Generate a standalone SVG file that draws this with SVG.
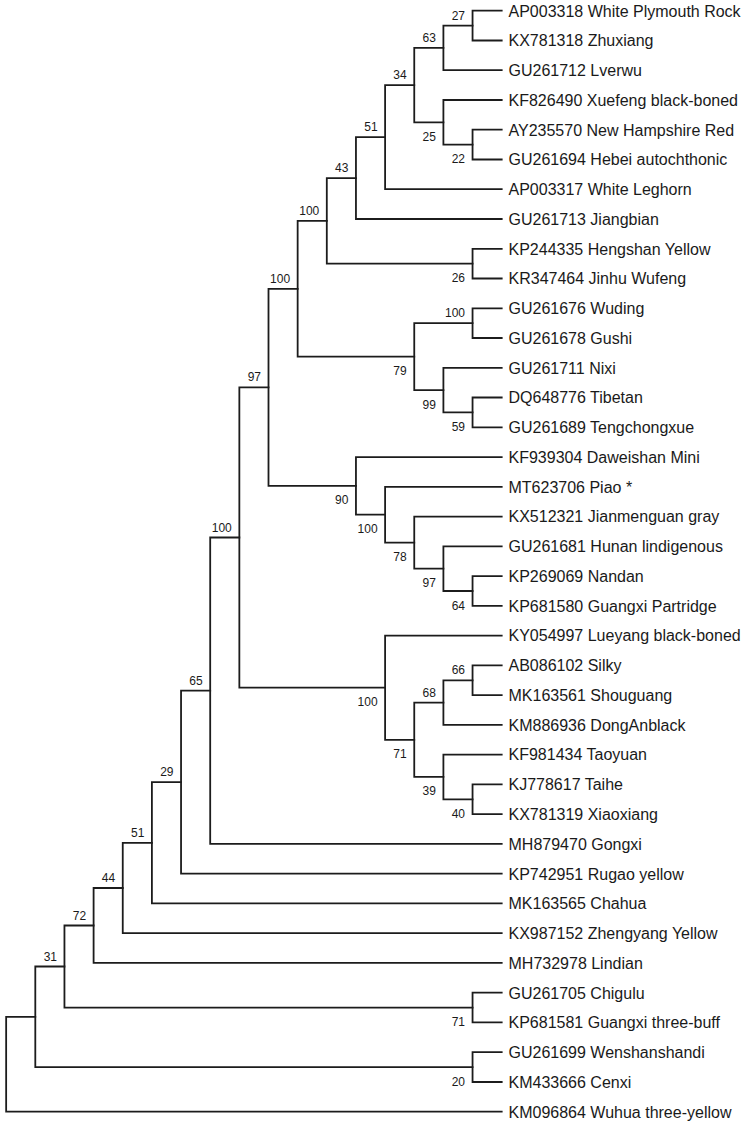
<svg xmlns="http://www.w3.org/2000/svg" width="750" height="1124" viewBox="0 0 750 1124">
<style>
.br{fill:none;stroke:#1c1c1c;stroke-width:1.8;stroke-linecap:square;stroke-linejoin:miter}
.lf{font-family:"Liberation Sans",Arial,sans-serif;font-size:16px;fill:#1a1a1a}
.bs{font-family:"Liberation Sans",Arial,sans-serif;font-size:12px;fill:#1a1a1a;text-anchor:end}
</style>
<rect width="750" height="1124" fill="#fff"/>
<g id="connectors">
<path class="br" d="M501.7 10.7H472.55V40.5H501.7"/>
<path class="br" d="M472.55 25.6H443.4V70.2H501.7"/>
<path class="br" d="M501.7 129.7H472.55V159.5H501.7"/>
<path class="br" d="M501.7 100H443.4V144.6H472.55"/>
<path class="br" d="M443.4 47.9H414.25V122.3H443.4"/>
<path class="br" d="M414.25 85.1H385.1V189.2H501.7"/>
<path class="br" d="M385.1 137.2H355.95V219H501.7"/>
<path class="br" d="M501.7 248.8H472.55V278.5H501.7"/>
<path class="br" d="M355.95 178.1H326.8V263.7H472.55"/>
<path class="br" d="M501.7 308.3H472.55V338H501.7"/>
<path class="br" d="M501.7 397.5H472.55V427.3H501.7"/>
<path class="br" d="M501.7 367.8H443.4V412.4H472.55"/>
<path class="br" d="M472.55 323.2H414.25V390.1H443.4"/>
<path class="br" d="M326.8 220.9H297.65V356.6H414.25"/>
<path class="br" d="M501.7 576.1H472.55V605.8H501.7"/>
<path class="br" d="M501.7 546.3H443.4V591H472.55"/>
<path class="br" d="M501.7 516.6H414.25V568.6H443.4"/>
<path class="br" d="M501.7 486.8H385.1V542.6H414.25"/>
<path class="br" d="M501.7 457.1H355.95V514.7H385.1"/>
<path class="br" d="M297.65 288.8H268.5V485.9H355.95"/>
<path class="br" d="M501.7 665.4H472.55V695.1H501.7"/>
<path class="br" d="M472.55 680.3H443.4V724.9H501.7"/>
<path class="br" d="M501.7 784.4H472.55V814.1H501.7"/>
<path class="br" d="M501.7 754.6H443.4V799.3H472.55"/>
<path class="br" d="M443.4 702.6H414.25V776.9H443.4"/>
<path class="br" d="M501.7 635.6H385.1V739.8H414.25"/>
<path class="br" d="M268.5 387.3H239.35V687.7H385.1"/>
<path class="br" d="M239.35 537.5H210.2V843.9H501.7"/>
<path class="br" d="M210.2 690.7H181.05V873.7H501.7"/>
<path class="br" d="M181.05 782.2H151.9V903.4H501.7"/>
<path class="br" d="M151.9 842.8H122.75V933.2H501.7"/>
<path class="br" d="M122.75 888H93.6V962.9H501.7"/>
<path class="br" d="M501.7 992.7H472.55V1022.4H501.7"/>
<path class="br" d="M93.6 925.5H64.45V1007.6H472.55"/>
<path class="br" d="M501.7 1052.2H472.55V1082H501.7"/>
<path class="br" d="M64.45 966.5H35.3V1067.1H472.55"/>
<path class="br" d="M35.3 1016.8H6.15V1111.7H501.7"/>
</g>
<g id="leaves">
<g id="leaf-AP003318"><text class="lf" x="508.5" y="16.5">AP003318 White Plymouth Rock</text></g>
<g id="leaf-KX781318"><text class="lf" x="508.5" y="46.3">KX781318 Zhuxiang</text></g>
<g id="leaf-GU261712"><text class="lf" x="508.5" y="76">GU261712 Lverwu</text></g>
<g id="leaf-KF826490"><text class="lf" x="508.5" y="105.8">KF826490 Xuefeng black-boned</text></g>
<g id="leaf-AY235570"><text class="lf" x="508.5" y="135.5">AY235570 New Hampshire Red</text></g>
<g id="leaf-GU261694"><text class="lf" x="508.5" y="165.3">GU261694 Hebei autochthonic</text></g>
<g id="leaf-AP003317"><text class="lf" x="508.5" y="195">AP003317 White Leghorn</text></g>
<g id="leaf-GU261713"><text class="lf" x="508.5" y="224.8">GU261713 Jiangbian</text></g>
<g id="leaf-KP244335"><text class="lf" x="508.5" y="254.6">KP244335 Hengshan Yellow</text></g>
<g id="leaf-KR347464"><text class="lf" x="508.5" y="284.3">KR347464 Jinhu Wufeng</text></g>
<g id="leaf-GU261676"><text class="lf" x="508.5" y="314.1">GU261676 Wuding</text></g>
<g id="leaf-GU261678"><text class="lf" x="508.5" y="343.8">GU261678 Gushi</text></g>
<g id="leaf-GU261711"><text class="lf" x="508.5" y="373.6">GU261711 Nixi</text></g>
<g id="leaf-DQ648776"><text class="lf" x="508.5" y="403.3">DQ648776 Tibetan</text></g>
<g id="leaf-GU261689"><text class="lf" x="508.5" y="433.1">GU261689 Tengchongxue</text></g>
<g id="leaf-KF939304"><text class="lf" x="508.5" y="462.9">KF939304 Daweishan Mini</text></g>
<g id="leaf-MT623706"><text class="lf" x="508.5" y="492.6">MT623706 Piao *</text></g>
<g id="leaf-KX512321"><text class="lf" x="508.5" y="522.4">KX512321 Jianmenguan gray</text></g>
<g id="leaf-GU261681"><text class="lf" x="508.5" y="552.1">GU261681 Hunan lindigenous</text></g>
<g id="leaf-KP269069"><text class="lf" x="508.5" y="581.9">KP269069 Nandan</text></g>
<g id="leaf-KP681580"><text class="lf" x="508.5" y="611.6">KP681580 Guangxi Partridge</text></g>
<g id="leaf-KY054997"><text class="lf" x="508.5" y="641.4">KY054997 Lueyang black-boned</text></g>
<g id="leaf-AB086102"><text class="lf" x="508.5" y="671.2">AB086102 Silky</text></g>
<g id="leaf-MK163561"><text class="lf" x="508.5" y="700.9">MK163561 Shouguang</text></g>
<g id="leaf-KM886936"><text class="lf" x="508.5" y="730.7">KM886936 DongAnblack</text></g>
<g id="leaf-KF981434"><text class="lf" x="508.5" y="760.4">KF981434 Taoyuan</text></g>
<g id="leaf-KJ778617"><text class="lf" x="508.5" y="790.2">KJ778617 Taihe</text></g>
<g id="leaf-KX781319"><text class="lf" x="508.5" y="819.9">KX781319 Xiaoxiang</text></g>
<g id="leaf-MH879470"><text class="lf" x="508.5" y="849.7">MH879470 Gongxi</text></g>
<g id="leaf-KP742951"><text class="lf" x="508.5" y="879.5">KP742951 Rugao yellow</text></g>
<g id="leaf-MK163565"><text class="lf" x="508.5" y="909.2">MK163565 Chahua</text></g>
<g id="leaf-KX987152"><text class="lf" x="508.5" y="939">KX987152 Zhengyang Yellow</text></g>
<g id="leaf-MH732978"><text class="lf" x="508.5" y="968.7">MH732978 Lindian</text></g>
<g id="leaf-GU261705"><text class="lf" x="508.5" y="998.5">GU261705 Chigulu</text></g>
<g id="leaf-KP681581"><text class="lf" x="508.5" y="1028.2">KP681581 Guangxi three-buff</text></g>
<g id="leaf-GU261699"><text class="lf" x="508.5" y="1058">GU261699 Wenshanshandi</text></g>
<g id="leaf-KM433666"><text class="lf" x="508.5" y="1087.8">KM433666 Cenxi</text></g>
<g id="leaf-KM096864"><text class="lf" x="508.5" y="1117.5">KM096864 Wuhua three-yellow</text></g>
</g>
<g id="internal-nodes">
<g id="node-A"><text class="bs" x="465" y="19.6">27</text></g>
<g id="node-B"><text class="bs" x="435.9" y="41.9">63</text></g>
<g id="node-C"><text class="bs" x="465" y="163.1">22</text></g>
<g id="node-D"><text class="bs" x="435.9" y="140.8">25</text></g>
<g id="node-E"><text class="bs" x="406.7" y="79.1">34</text></g>
<g id="node-F"><text class="bs" x="377.6" y="131.2">51</text></g>
<g id="node-G"><text class="bs" x="348.4" y="172.1">43</text></g>
<g id="node-H"><text class="bs" x="465" y="282.2">26</text></g>
<g id="node-I"><text class="bs" x="319.3" y="214.9">100</text></g>
<g id="node-J"><text class="bs" x="465" y="317.2">100</text></g>
<g id="node-K"><text class="bs" x="465" y="430.9">59</text></g>
<g id="node-L"><text class="bs" x="435.9" y="408.6">99</text></g>
<g id="node-M"><text class="bs" x="406.7" y="375.1">79</text></g>
<g id="node-N"><text class="bs" x="290.1" y="282.8">100</text></g>
<g id="node-O"><text class="bs" x="465" y="609.5">64</text></g>
<g id="node-P"><text class="bs" x="435.9" y="587.1">97</text></g>
<g id="node-Q"><text class="bs" x="406.7" y="561.1">78</text></g>
<g id="node-R"><text class="bs" x="377.6" y="533.2">100</text></g>
<g id="node-S"><text class="bs" x="348.4" y="504.4">90</text></g>
<g id="node-T"><text class="bs" x="261" y="381.3">97</text></g>
<g id="node-U"><text class="bs" x="465" y="674.3">66</text></g>
<g id="node-V"><text class="bs" x="435.9" y="696.6">68</text></g>
<g id="node-W"><text class="bs" x="465" y="817.8">40</text></g>
<g id="node-X"><text class="bs" x="435.9" y="795.4">39</text></g>
<g id="node-Y"><text class="bs" x="406.7" y="758.3">71</text></g>
<g id="node-Z"><text class="bs" x="377.6" y="706.2">100</text></g>
<g id="node-AA"><text class="bs" x="231.8" y="531.5">100</text></g>
<g id="node-AB"><text class="bs" x="202.7" y="684.7">65</text></g>
<g id="node-AC"><text class="bs" x="173.5" y="776.2">29</text></g>
<g id="node-AD"><text class="bs" x="144.4" y="836.8">51</text></g>
<g id="node-AE"><text class="bs" x="115.2" y="882">44</text></g>
<g id="node-AF"><text class="bs" x="86.1" y="919.5">72</text></g>
<g id="node-AG"><text class="bs" x="57" y="960.5">31</text></g>
<g id="node-AG2"><text class="bs" x="465" y="1026.1">71</text></g>
<g id="node-AH"></g>
<g id="node-AH2"><text class="bs" x="465" y="1085.6">20</text></g>
<g id="node-root"></g>
</g>
</svg>
